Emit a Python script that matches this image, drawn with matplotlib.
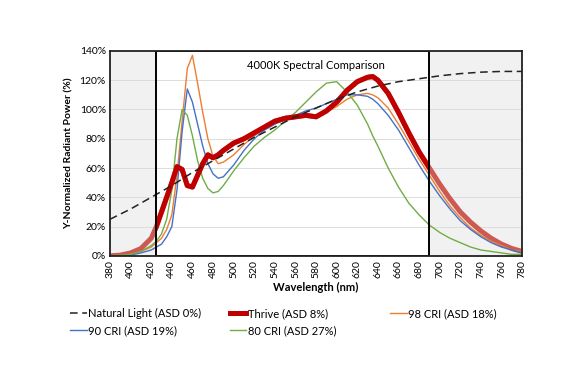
import matplotlib

matplotlib.use("Agg")
import matplotlib.pyplot as plt
from matplotlib.patches import Rectangle

plt.rcParams["font.family"] = ["Lato", "DejaVu Sans"]

# wavelength grids (nm) and y-normalized radiant power (%)
WL_NAT = [380, 400, 420, 440, 460, 480, 500, 520, 540, 560, 580, 600, 620,
          640, 660, 680, 700, 720, 740, 760, 780]
NATURAL = [25, 32, 40, 48, 57, 65, 73, 81, 88, 95, 101, 107, 112, 116, 119,
           121, 123, 124.5, 125.5, 126, 126]

WL = [380, 390, 400, 410, 420, 425, 430, 435, 440, 445, 450, 455, 460, 465,
      470, 475, 480, 485, 490, 500, 510, 520, 530, 540, 550, 560, 570, 580,
      590, 600, 610, 620, 630, 635, 640, 650, 660, 670, 680, 690, 700, 710,
      720, 730, 740, 750, 760, 770, 780]
THRIVE = [0, 0.5, 2, 5, 12, 20, 30, 40, 50, 61, 59, 48, 47, 55, 63, 69, 67,
          69, 72, 77, 80, 84, 88, 92, 94, 95, 96, 95, 99, 105, 113, 119, 122,
          122.5, 120, 111, 98, 84, 71, 60, 49, 39, 30, 23, 17, 12, 8, 5, 3]
CRI98 = [0, 0.3, 1, 3, 6, 9, 12, 18, 28, 55, 92, 128, 137, 118, 98, 80, 68,
         63, 64, 69, 76, 82, 87, 91, 94, 96, 97, 96, 98, 102, 107, 110, 111,
         110, 108, 101, 90, 78, 66, 55, 44, 34, 26, 19, 14, 10, 7, 4, 3]
CRI90 = [0, 0.2, 0.5, 2, 4, 6, 8, 13, 20, 45, 85, 114, 105, 90, 75, 63, 56,
         53, 54, 62, 72, 80, 86, 90, 93, 96, 99, 101, 104, 107, 110, 110, 109,
         107, 104, 96, 86, 74, 62, 51, 41, 32, 24, 18, 13, 9, 6, 4, 2]
CRI80 = [0, 0.3, 1, 3, 7, 10, 15, 25, 45, 80, 100, 96, 82, 65, 53, 46, 43,
         44, 48, 58, 67, 75, 81, 86, 92, 98, 105, 112, 118, 119, 112, 103, 90,
         82, 75, 60, 47, 36, 28, 21, 16, 12, 9, 6, 4, 3, 2, 1, 1]

BOX = (425, 690)


def main():
    fig = plt.figure(figsize=(5.7, 3.83), dpi=100)
    ax = fig.add_axes([0.193, 0.332, 0.723, 0.535])

    # shaded regions outside the box
    ax.axvspan(380, BOX[0], color="#f1f1f1", zorder=1, lw=0)
    ax.axvspan(BOX[1], 780, color="#f1f1f1", zorder=1, lw=0)

    h_nat, = ax.plot(WL_NAT, NATURAL, color="#222222", lw=1.1, ls=(0, (5, 3)),
                     zorder=6, label="Natural Light (ASD 0%)")
    h98, = ax.plot(WL, CRI98, color="#ED7D31", lw=1.0, zorder=4,
                   label="98 CRI (ASD 18%)")
    h90, = ax.plot(WL, CRI90, color="#4472C4", lw=1.0, zorder=4,
                   label="90 CRI (ASD 19%)")
    h80, = ax.plot(WL, CRI80, color="#70AD47", lw=1.0, zorder=4,
                   label="80 CRI (ASD 27%)")
    ax.plot(WL, THRIVE, color="#CD5A52", lw=3.6, zorder=3)
    h_thr, = ax.plot(WL, THRIVE, color="#C00000", lw=3.6, zorder=5,
                     label="Thrive (ASD 8%)")
    clip = Rectangle((BOX[0], 0), BOX[1] - BOX[0], 140, transform=ax.transData)
    h_thr.set_clip_path(clip)

    ax.add_patch(Rectangle((BOX[0], 0), BOX[1] - BOX[0], 140, fill=False,
                           ec="black", lw=1.4, zorder=7))

    ax.set_xlim(380, 780)
    ax.set_ylim(0, 140)
    ax.set_xticks(range(380, 781, 20))
    ax.set_xticklabels([str(v) for v in range(380, 781, 20)], rotation=90,
                       fontsize=7.5)
    ax.set_yticks(range(0, 141, 20))
    ax.set_yticklabels([f"{v}%" for v in range(0, 141, 20)], fontsize=7.5)
    ax.tick_params(length=0, pad=3)
    ax.grid(axis="y", color="#dcdcdc", lw=0.7, zorder=2)
    for s in ax.spines.values():
        s.set_color("#222222")
        s.set_linewidth(1.3)
        s.set_zorder(8)

    ax.text(0.5, 0.955, "4000K Spectral Comparison", transform=ax.transAxes,
            ha="center", va="top", fontsize=8, zorder=8)
    ax.set_xlabel("Wavelength (nm)", fontsize=8, fontweight="bold", labelpad=3)
    ax.set_ylabel("Y-Normalized Radiant Power (%)", fontsize=7.5,
                  fontweight="bold", labelpad=4)

    # three one-column legends, laid out like equal-width columns
    columns = [([h_nat, h90], 0.123), ([h_thr, h80], 0.403), ([h98], 0.684)]
    for hs, x0 in columns:
        fig.legend(hs, [h.get_label() for h in hs], loc="upper left",
                   bbox_to_anchor=(x0, 0.195), frameon=False, fontsize=8,
                   handlelength=1.5, handletextpad=0.15, labelspacing=0.5,
                   borderpad=0, borderaxespad=0)

    fig.savefig("out.png", dpi=100)
    plt.close(fig)


if __name__ == "__main__":
    main()
